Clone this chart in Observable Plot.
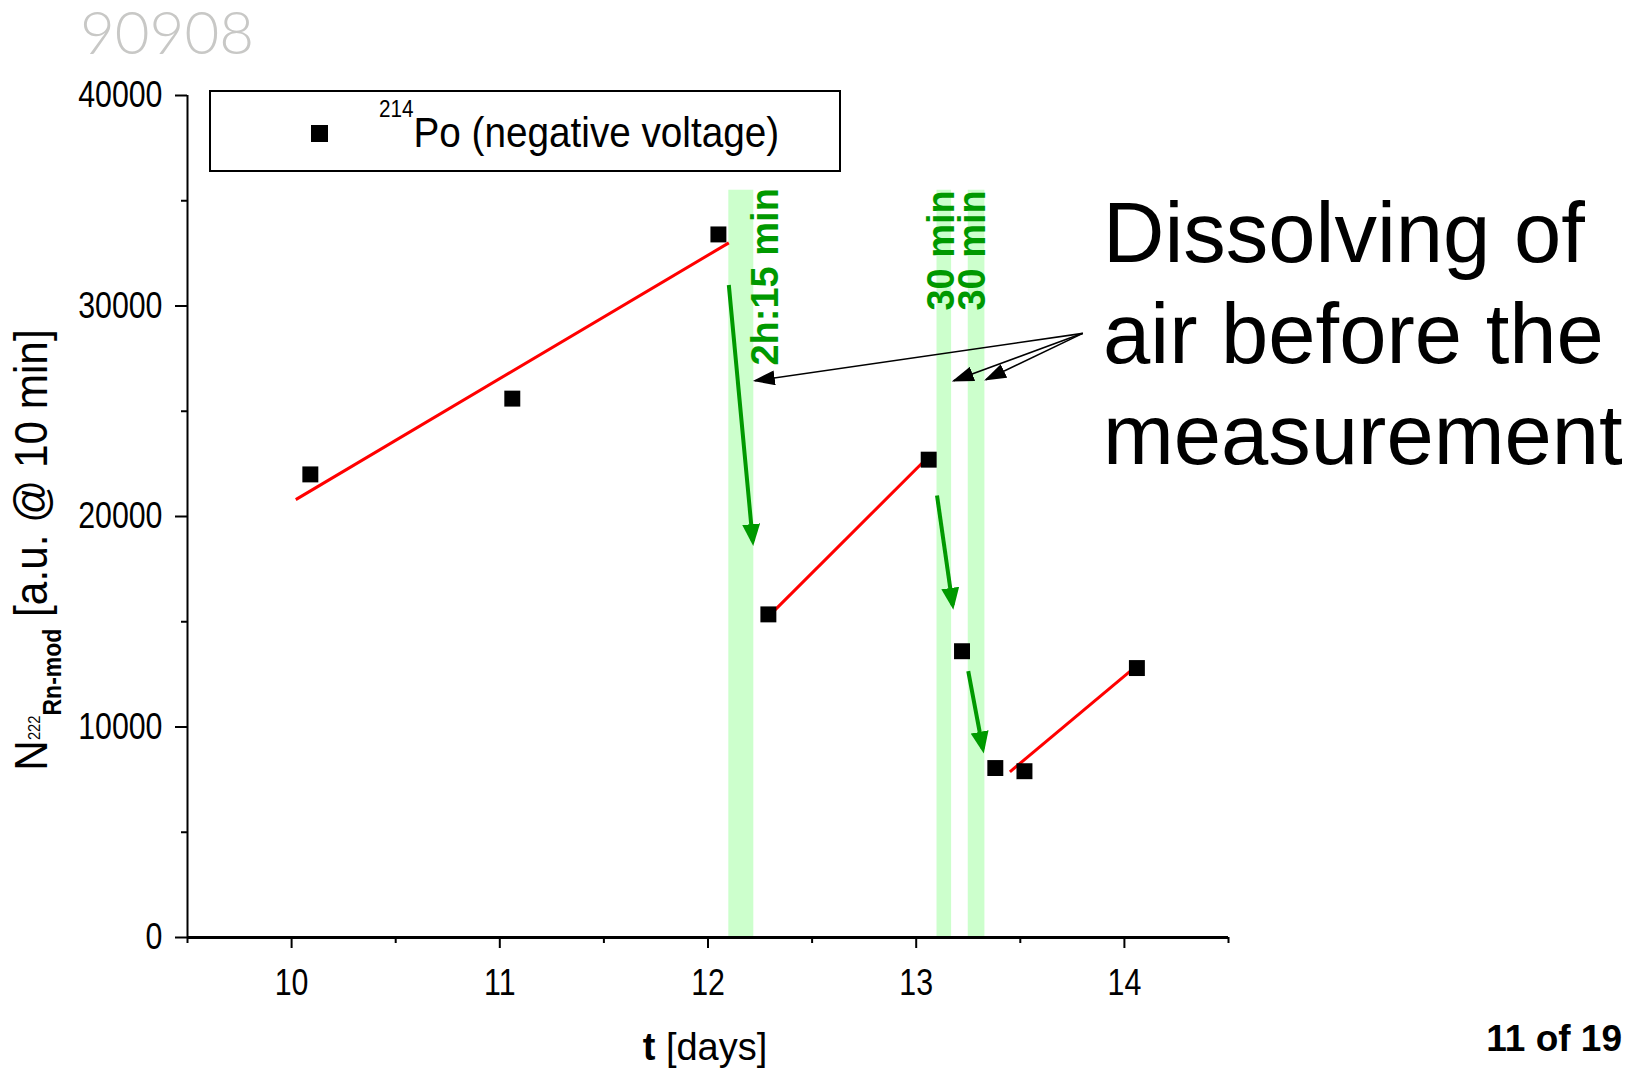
<!DOCTYPE html>
<html><head><meta charset="utf-8">
<script src="https://cdn.jsdelivr.net/npm/d3@7"></script>
<script src="https://cdn.jsdelivr.net/npm/@observablehq/plot@0.6"></script>
<style>
html,body{margin:0;padding:0;background:#fff;}
#chart{position:relative;width:1643px;height:1069px;overflow:hidden;}
</style></head><body><div id="chart"></div>
<script>
// ---- data ----
const tDays  = [10.09, 11.06, 12.05, 12.29, 13.06, 13.22, 13.38, 13.52, 14.06];
const counts = [22000, 25600, 33400, 15350, 22700, 13600, 8050, 7900, 12800];

const fitStartT = [10.02, 12.28, 13.45];
const fitStartN = [20800, 15150, 7870];
const fitEndT   = [12.10, 13.06, 14.07];
const fitEndN   = [33000, 22850, 13000];

const bandStart = [12.10, 13.10, 13.25];
const bandEnd   = [12.22, 13.17, 13.33];
const bandTop   = [35500, 35500, 35500];

const bandLabels = ["2h:15 min", "30 min", "30 min"];
const bandLabelT = [12.28, 13.125, 13.272];
const bandLabelN = [35600, 35500, 35500];

const dropStartT = [12.10, 13.10, 13.25];
const dropStartN = [31000, 21000, 12650];
const dropEndT   = [12.215, 13.175, 13.32];
const dropEndN   = [18830, 15800, 8970];

const noteT = 13.80, noteN = 28700;
const pointerT = [12.225, 13.18, 13.335];
const pointerN = [26450, 26450, 26500];

const xMajor = [10, 11, 12, 13, 14];
const xMinor = [9.5, 10.5, 11.5, 12.5, 13.5, 14.5];
const yMajor = [0, 10000, 20000, 30000, 40000];
const yMinor = [5000, 15000, 25000, 35000];

const noteLines = ["Dissolving of", "air before the", "measurement"];
const watermark = "90908";
const pageLabel = "11 of 19";
const legendSup = "214", legendText = "Po (negative voltage)";

// ---- build tables ----
const points = tDays.map((t, i) => ({t, n: counts[i]}));
const fits = fitStartT.map((t, i) => ({t1: t, n1: fitStartN[i], t2: fitEndT[i], n2: fitEndN[i]}));
const bands = bandStart.map((t, i) => ({t1: t, t2: bandEnd[i], top: bandTop[i]}));
const labels = bandLabels.map((s, i) => ({s, t: bandLabelT[i], n: bandLabelN[i]}));
const drops = dropStartT.map((t, i) => ({t1: t, n1: dropStartN[i], t2: dropEndT[i], n2: dropEndN[i]}));
const pointers = pointerT.map((t, i) => ({t1: noteT, n1: noteN, t2: t, n2: pointerN[i]}));

const NS = "http://www.w3.org/2000/svg";
function triHead(len, wid, back) {
  return (color, context) => {
    const doc = (context && context.document) || document;
    const m = doc.createElementNS(NS, "marker");
    m.setAttribute("viewBox", `${-len} ${-wid / 2} ${len + back} ${wid}`);
    m.setAttribute("markerUnits", "userSpaceOnUse");
    m.setAttribute("markerWidth", len + back);
    m.setAttribute("markerHeight", wid);
    m.setAttribute("refX", -back);
    m.setAttribute("refY", 0);
    m.setAttribute("orient", "auto");
    const p = doc.createElementNS(NS, "path");
    p.setAttribute("d", `M${-len},${-wid / 2}L0,0L${-len},${wid / 2}Z`);
    p.setAttribute("fill", color);
    p.setAttribute("stroke", "none");
    m.appendChild(p);
    return m;
  };
}

function build(custom) {
  const gHead = custom ? triHead(22, 18, 5) : "arrow";
  const bHead = custom ? triHead(22, 15, 2) : "arrow";
  const fmt = d3.format("d");
  return Plot.plot({
    width: 1643, height: 1069,
    marginLeft: 187, marginRight: 415, marginTop: 95, marginBottom: 132,
    x: {domain: [9.5, 14.5]},
    y: {domain: [0, 40000]},
    style: {fontFamily: "'Liberation Sans', Arial, sans-serif", fontSize: "36px", color: "black", background: "white", overflow: "visible"},
    marks: [
      Plot.rect(bands, {x1: "t1", x2: "t2", y1: 0, y2: "top", fill: "#ccffcc"}),
      Plot.axisX({ticks: xMajor, tickSize: 11, tickPadding: 20, strokeWidth: 2, fontSize: 37, tickFormat: fmt, label: null}),
      Plot.axisX({ticks: xMinor, tickSize: 6, strokeWidth: 2, tickFormat: () => "", label: null}),
      Plot.axisY({ticks: yMajor, tickSize: 12, tickPadding: 13, strokeWidth: 2, fontSize: 37, tickFormat: fmt, label: null}),
      Plot.axisY({ticks: yMinor, tickSize: 6, strokeWidth: 2, tickFormat: () => "", label: null}),
      Plot.ruleY([0], {x1: 9.5, x2: 14.5, stroke: "black", strokeWidth: 3}),
      Plot.ruleX([9.5], {y1: 0, y2: 40000, stroke: "black", strokeWidth: 2}),
      Plot.link(fits, {x1: "t1", y1: "n1", x2: "t2", y2: "n2", stroke: "#ff0000", strokeWidth: 3}),
      Plot.link(drops, {x1: "t1", y1: "n1", x2: "t2", y2: "n2", stroke: "#009900", strokeWidth: 4, markerEnd: gHead}),
      Plot.link(pointers, {x1: "t1", y1: "n1", x2: "t2", y2: "n2", stroke: "black", strokeWidth: 1.6, markerEnd: bHead}),
      Plot.dot(points, {x: "t", y: "n", symbol: "square", r: 9, fill: "black", stroke: "none"}),
      Plot.text(labels, {x: "t", y: "n", text: "s", rotate: -90, textAnchor: "end", fill: "#009900", fontSize: 38, fontWeight: "bold"})
    ]
  });
}

let svg;
try { svg = build(true); } catch (e) { svg = build(false); }
document.getElementById("chart").appendChild(svg);

// condensed look of the tick labels
svg.querySelectorAll('g[aria-label$="tick label"] text').forEach(t => {
  t.setAttribute("transform", (t.getAttribute("transform") || "") + " scale(0.82,1)");
});

const S = d3.select(svg);
const FF = "'Liberation Sans', Arial, sans-serif";

// watermark
S.append("text").attr("x", 80).attr("y", 54).attr("text-anchor", "start").attr("font-family", "Lato, 'Open Sans', sans-serif")
  .attr("font-weight", 300).attr("font-size", 60).attr("fill", "#c8c8c6").text(watermark);

// legend
S.append("rect").attr("x", 210).attr("y", 91).attr("width", 630).attr("height", 80)
  .attr("fill", "white").attr("stroke", "black").attr("stroke-width", 2);
S.append("rect").attr("x", 311).attr("y", 125).attr("width", 17).attr("height", 17).attr("fill", "black");
const lt = S.append("text").attr("transform", "translate(379,147) scale(0.9,1)").attr("text-anchor", "start")
  .attr("font-family", FF).attr("fill", "black");
lt.append("tspan").attr("font-size", 23).attr("dy", -30).text(legendSup);
lt.append("tspan").attr("font-size", 43).attr("dy", 30).text(legendText);

// y-axis title
const yl = S.append("text").attr("transform", "translate(47,550) rotate(-90) scale(0.92,1)")
  .attr("text-anchor", "middle").attr("font-family", FF).attr("fill", "black");
yl.append("tspan").attr("font-size", 46).text("N");
yl.append("tspan").attr("font-size", 16).attr("dy", -7).text("222");
yl.append("tspan").attr("font-size", 25).attr("font-weight", "bold").attr("dy", 21).text("Rn-mod");
yl.append("tspan").attr("font-size", 46).attr("dy", -14).text(" [a.u. @ 10 min]");

// x-axis title
const xl = S.append("text").attr("x", 705).attr("y", 1060).attr("text-anchor", "middle")
  .attr("font-family", FF).attr("font-size", 38).attr("fill", "black");
xl.append("tspan").attr("font-weight", "bold").text("t");
xl.append("tspan").text(" [days]");

// note text
noteLines.forEach((s, i) => {
  S.append("text").attr("x", 1103).attr("y", 262 + i * 101).attr("text-anchor", "start")
    .attr("font-family", FF).attr("font-size", 85).attr("fill", "black").text(s);
});

// page label
S.append("text").attr("x", 1622).attr("y", 1051).attr("text-anchor", "end")
  .attr("font-family", FF).attr("font-weight", "bold").attr("font-size", 37)
  .attr("fill", "black").text(pageLabel);
</script></body></html>
